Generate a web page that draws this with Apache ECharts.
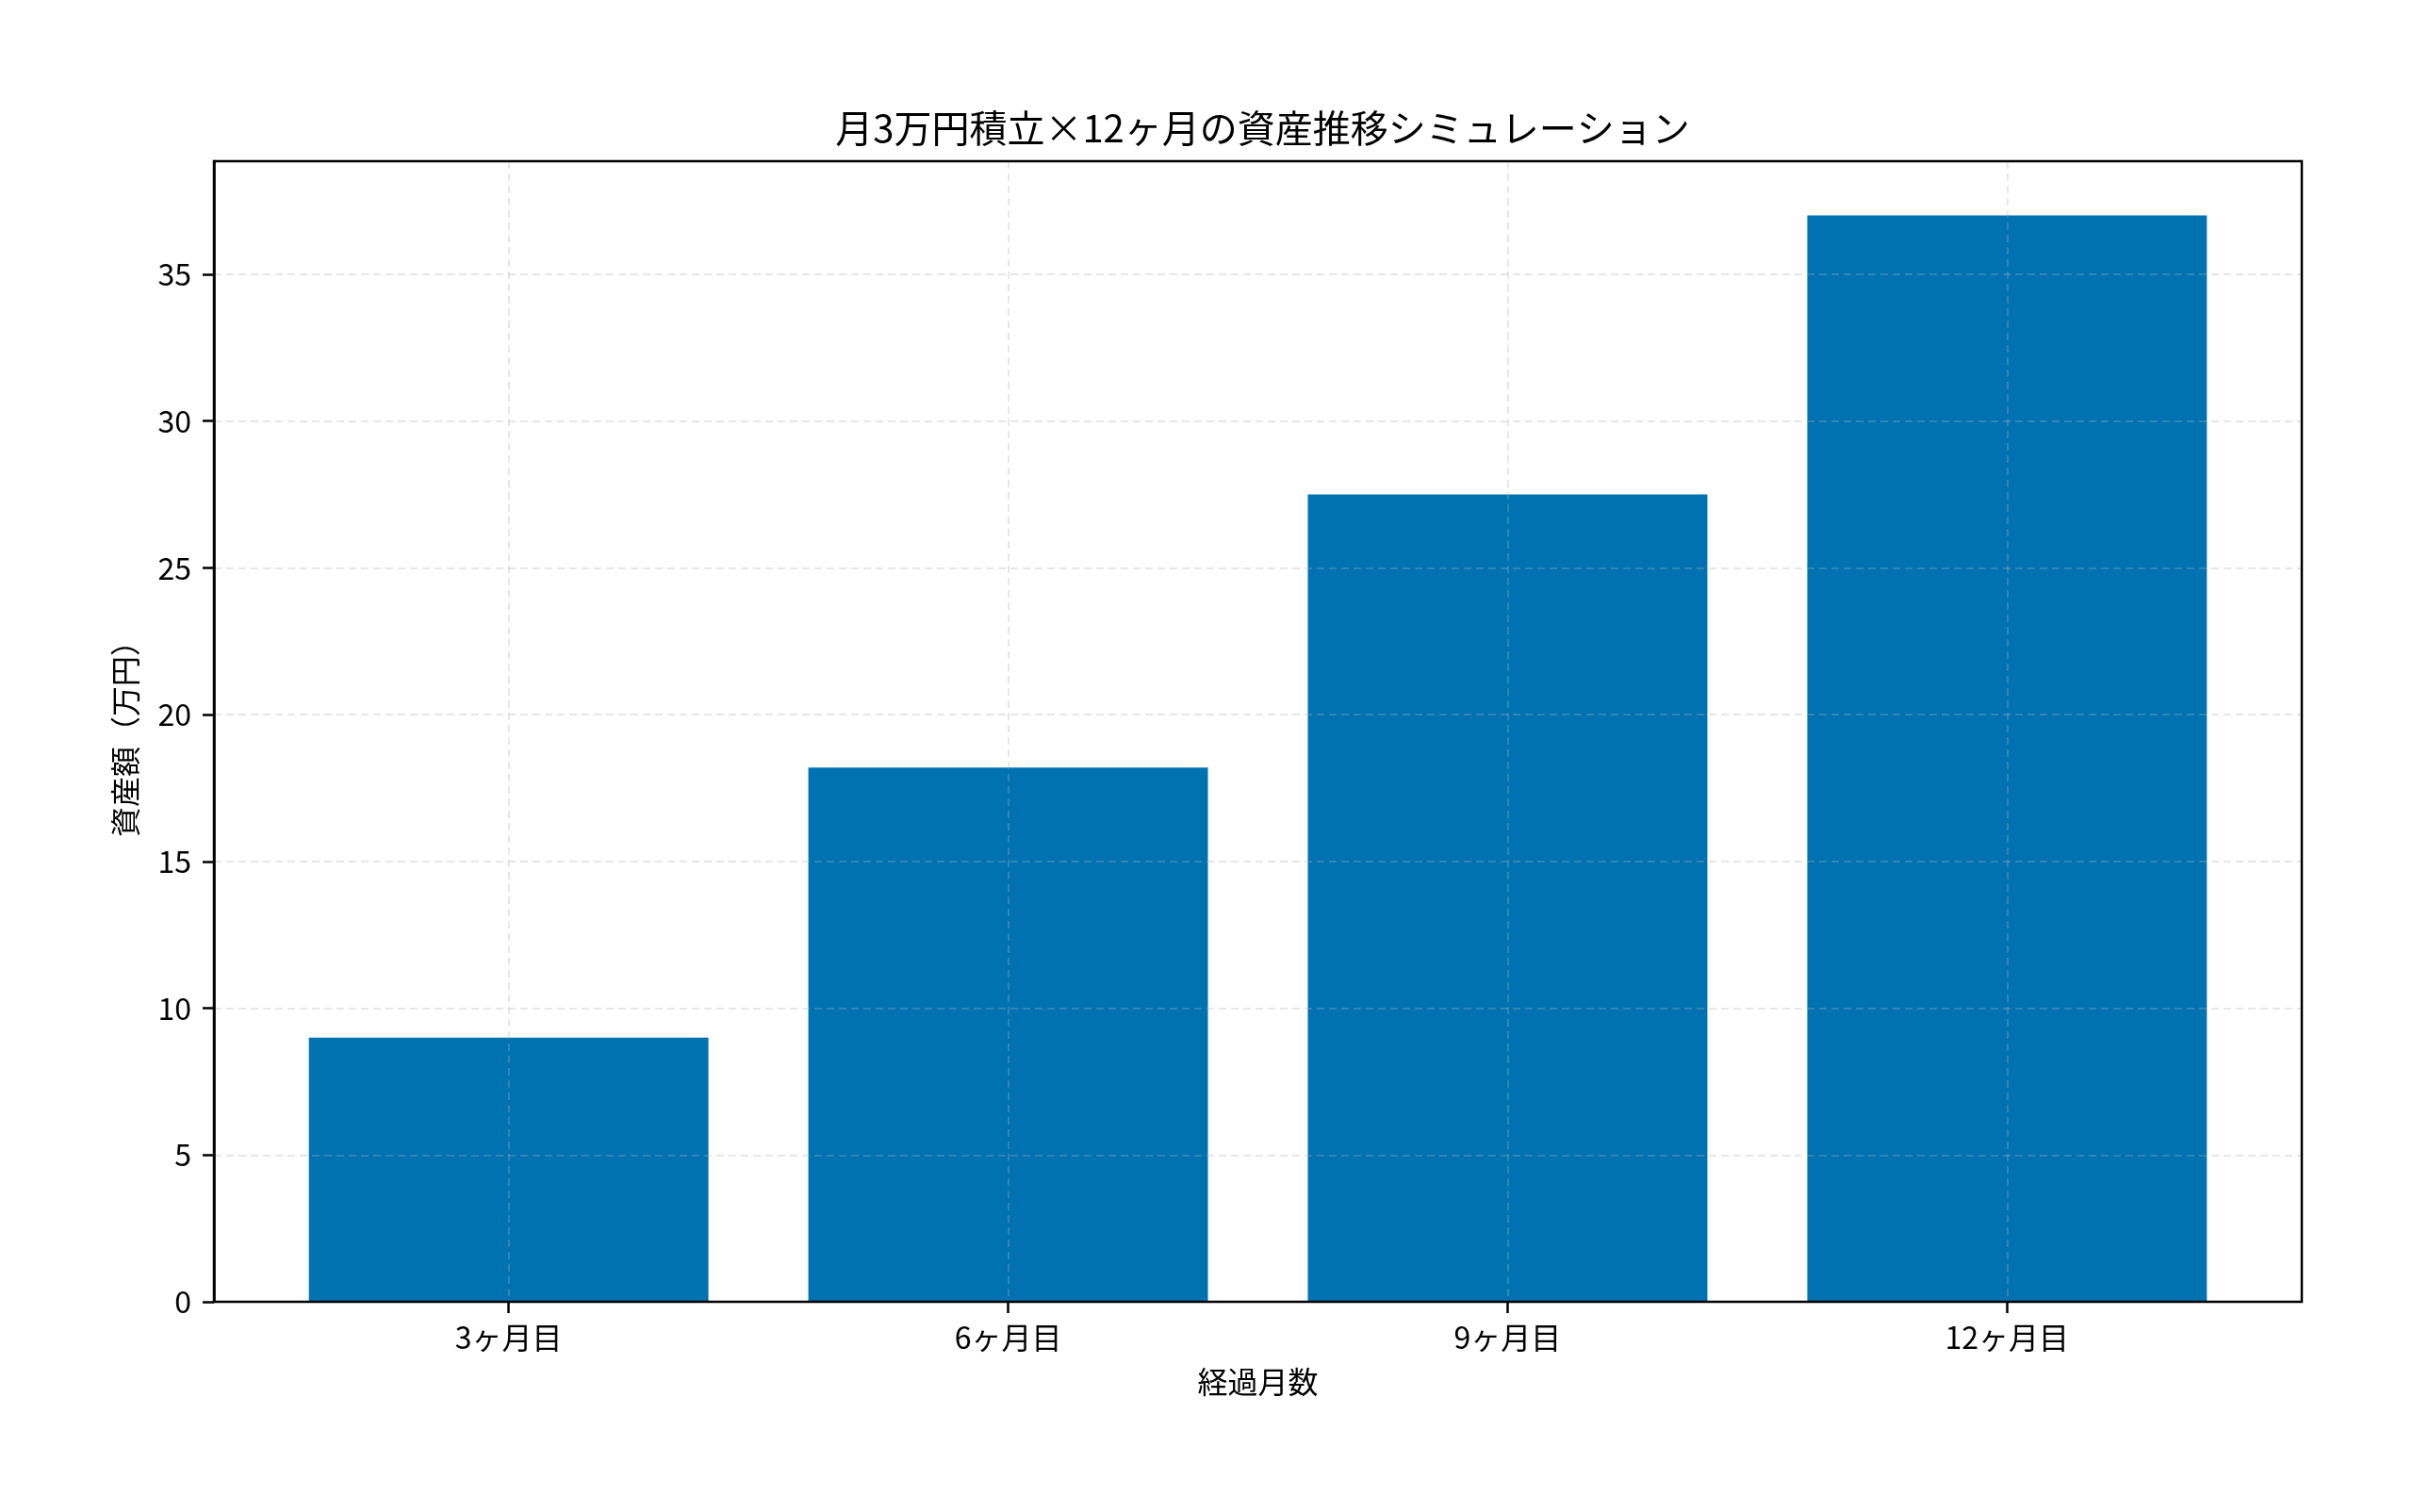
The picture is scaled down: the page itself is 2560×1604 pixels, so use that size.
<!DOCTYPE html>
<html>
<head>
<meta charset="utf-8">
<script src="https://cdn.jsdelivr.net/npm/echarts@6/dist/echarts.min.js"></script>
<style>
  html, body { margin: 0; padding: 0; background: #fff; }
  #chart { width: 2560px; height: 1604px; }
</style>
</head>
<body>
<div id="chart"></div>
<script>
// データ
var months = ['3ヶ月目', '6ヶ月目', '9ヶ月目', '12ヶ月目'];
var assets = [9.0, 18.2, 27.5, 37.0];
var yTicks = [0, 5, 10, 15, 20, 25, 30, 35];
var titleText = '月3万円積立×12ヶ月の資産推移シミュレーション';
var xName = '経過月数';
var yName = '資産額（万円）';

(function() {
  var myChart = echarts.init(document.getElementById('chart'));
  var font = '"Noto Sans CJK JP", "Noto Sans", sans-serif';

  // 枠の位置（px）
  var frame = { left: 227, right: 118, top: 171, bottom: 223 };
  var frameW = 2560 - frame.left - frame.right;
  // matplotlib風の余白: 棒幅0.8、左右5%マージン
  var span = (months.length - 1) + 0.8;
  var total = span * 1.1;
  var unit = frameW / total;
  var inset = (total - months.length) / 2 * unit;
  var yMax = Math.max.apply(null, assets) * 1.05;

  var gridColor = 'rgba(176,176,176,0.3)';

  var option = {
    backgroundColor: '#fff',
    textStyle: { fontFamily: font, color: '#000' },
    title: {
      text: titleText,
      left: frame.left + frameW / 2,
      textAlign: 'center',
      top: 111,
      textStyle: { fontFamily: font, fontSize: 40, fontWeight: 'normal', color: '#000' }
    },
    grid: [
      // 外枠
      { left: frame.left, right: frame.right, top: frame.top, bottom: frame.bottom,
        show: true, borderColor: '#000', borderWidth: 2.5, z: 4, containLabel: false },
      // 棒の領域
      { left: frame.left + inset, right: frame.right + inset, top: frame.top, bottom: frame.bottom,
        containLabel: false }
    ],
    xAxis: [
      {
        type: 'value', gridIndex: 0, show: false, min: 0, max: 1
      },
      {
        type: 'category',
        gridIndex: 1,
        data: months,
        z: 3,
        name: xName,
        nameLocation: 'middle',
        nameGap: 69,
        nameTextStyle: { fontFamily: font, fontSize: 32, color: '#000' },
        axisLine: { show: false },
        axisTick: { show: true, alignWithLabel: true, length: 12, lineStyle: { color: '#000', width: 2.5 } },
        axisLabel: { color: '#000', fontFamily: font, fontSize: 32, margin: 22 },
        splitLine: { show: true, alignWithLabel: true, lineStyle: { color: gridColor, type: [8, 5], width: 2 } }
      }
    ],
    yAxis: [
      {
        type: 'value',
        gridIndex: 0,
        min: 0,
        max: yMax,
        z: 3,
        name: yName,
        nameLocation: 'middle',
        nameGap: 78,
        nameRotate: 90,
        nameTextStyle: { fontFamily: font, fontSize: 32, color: '#000' },
        axisLine: { show: true, lineStyle: { color: '#000', width: 2.5 } },
        axisTick: { show: true, length: 12, customValues: yTicks, lineStyle: { color: '#000', width: 2.5 } },
        axisLabel: { color: '#000', fontFamily: font, fontSize: 32, margin: 24, customValues: yTicks },
        splitLine: { show: true, lineStyle: { color: gridColor, type: [8, 5], width: 2 } }
      },
      {
        type: 'value', gridIndex: 1, show: false, min: 0, max: yMax
      }
    ],
    series: [
      {
        name: '資産額',
        type: 'bar',
        xAxisIndex: 1,
        yAxisIndex: 1,
        data: assets,
        barWidth: '80%',
        itemStyle: { color: '#0072b2' }
      }
    ]
  };

  myChart.setOption(option);
  window.addEventListener('resize', function() {
    myChart.resize();
  });
})();
</script>
</body>
</html>
